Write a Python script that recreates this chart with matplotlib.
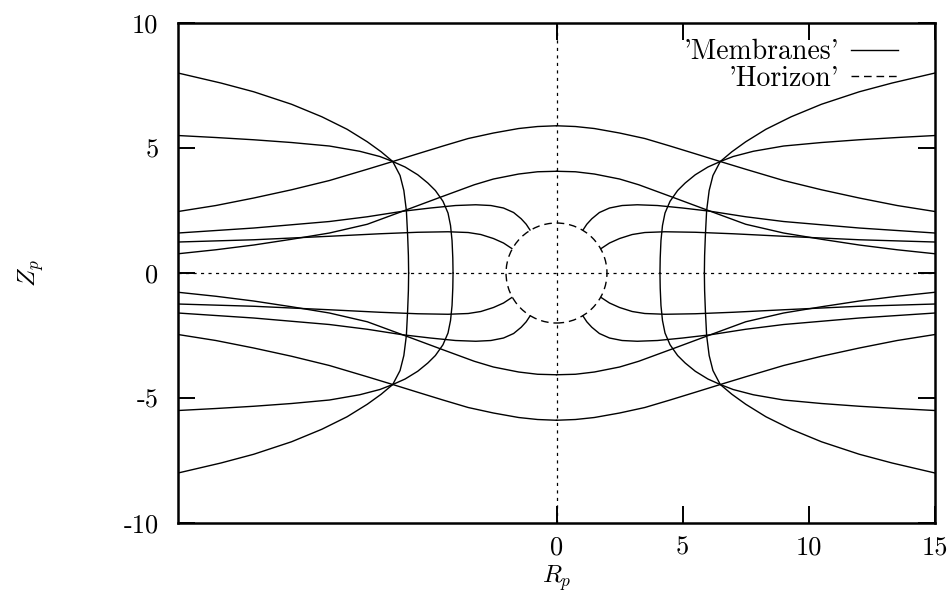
import matplotlib
matplotlib.use('agg')
import matplotlib.pyplot as plt
import numpy as np
from matplotlib.patches import Circle
from matplotlib.lines import Line2D

# TeX-like look of the original (gnuplot + latex terminal)
plt.rcParams['font.family'] = 'cmr10'
plt.rcParams['mathtext.fontset'] = 'cm'
plt.rcParams['axes.unicode_minus'] = False
plt.rcParams['axes.formatter.use_mathtext'] = True

# the picture is symmetric in both axes, so the other quarters are mirrors
outer_r = [-15.0, -13.3, -12.0, -10.5, -9.3, -8.3, -7.5, -6.95, -6.49, -6.2, -6.05, -5.95, -5.9, -5.87, -5.86]
outer_z = [8.0, 7.6, 7.25, 6.75, 6.25, 5.75, 5.25, 4.85, 4.46, 3.9, 3.3, 2.5, 1.5, 0.7, 0.0]

inner_r = [-15.0, -13.5, -12.0, -10.5, -9.0, -7.8, -7.0, -6.49, -6.0, -5.5, -5.1, -4.8, -4.5, -4.3, -4.2, -4.14, -4.11, -4.1]
inner_z = [5.5, 5.42, 5.33, 5.22, 5.08, 4.87, 4.66, 4.46, 4.24, 3.93, 3.6, 3.3, 2.87, 2.4, 1.9, 1.3, 0.6, 0.0]

high_r = [-15.0, -13.5, -12.0, -10.5, -9.0, -7.5, -6.49, -5.5, -4.5, -3.5, -2.5, -1.5, -0.75, 0.0]
high_z = [2.46, 2.7, 3.0, 3.33, 3.7, 4.15, 4.46, 4.77, 5.08, 5.38, 5.6, 5.78, 5.86, 5.89]

mid_r = [-15.0, -13.5, -12.0, -10.5, -9.0, -7.5, -6.1, -4.58, -3.26, -2.5, -1.5, -0.75, 0.0]
mid_z = [0.77, 0.93, 1.12, 1.35, 1.6, 1.95, 2.47, 3.04, 3.53, 3.76, 3.96, 4.05, 4.07]

bh1_r = [-15.0, -13.5, -12.0, -10.5, -9.0, -7.5, -6.1, -5.0, -4.0, -3.2, -2.6, -2.1, -1.7, -1.4, -1.2, -1.05]
bh1_z = [1.6, 1.7, 1.8, 1.93, 2.06, 2.25, 2.47, 2.6, 2.7, 2.73, 2.7, 2.6, 2.42, 2.17, 1.95, 1.72]

bh2_r = [-15.0, -12.0, -9.0, -7.0, -5.5, -4.3, -3.5, -3.0, -2.5, -2.1, -1.77]
bh2_z = [1.24, 1.33, 1.47, 1.57, 1.63, 1.65, 1.62, 1.54, 1.38, 1.2, 0.98]

horizon_radius = 2.0

xticks = [0, 5, 10, 15]
yticks = [-10, -5, 0, 5, 10]

fig = plt.figure(figsize=(9.53, 5.95), dpi=100)
ax = fig.add_axes([0.1868, 0.121, 0.7943, 0.8403])

curves = [(outer_r, outer_z), (inner_r, inner_z), (high_r, high_z),
          (mid_r, mid_z), (bh1_r, bh1_z), (bh2_r, bh2_z)]
for r, z in curves:
    r = np.array(r)
    z = np.array(z)
    for sr in (1, -1):
        for sz in (1, -1):
            ax.plot(sr * r, sz * z, color='k', lw=1.0)

# dotted zero axes
ax.axhline(0, color='k', lw=0.9, linestyle=(0, (2.5, 3.5)))
ax.axvline(0, color='k', lw=0.9, linestyle=(0, (2.5, 3.5)))

hor = Circle((0, 0), horizon_radius, fill=False, ec='k', lw=1.0, linestyle=(0, (5.5, 3.5)))
ax.add_patch(hor)

ax.set_xlim(-15, 15)
ax.set_ylim(-10, 10)
ax.set_xticks(xticks)
ax.set_xticklabels([str(t) for t in xticks])
ax.set_yticks(yticks)
ax.set_yticklabels([str(t) for t in yticks])
ax.tick_params(direction='in', length=12, width=1.4, top=True, right=True,
               labelsize=19, pad=14)
ax.tick_params(axis='x', pad=9)
for s in ax.spines.values():
    s.set_linewidth(1.8)

ax.set_xlabel('$R_p$', fontsize=18)
ax.xaxis.set_label_coords(0.5, -0.08)
ax.set_ylabel('$Z_p$', fontsize=18)
ax.yaxis.set_label_coords(-0.175, 0.5)

handles = [Line2D([], [], color='k', lw=1.0),
           Line2D([], [], color='k', lw=1.0, linestyle=(0, (5.5, 3.5)))]
ax.legend(handles, ["'Membranes'", "'Horizon'"], loc='upper right',
          bbox_to_anchor=(0.951, 0.968), frameon=False, markerfirst=False,
          fontsize=20, handlelength=1.7, handletextpad=0.4,
          borderpad=0, borderaxespad=0, labelspacing=0.0)

fig.savefig('out.png', dpi=100)
